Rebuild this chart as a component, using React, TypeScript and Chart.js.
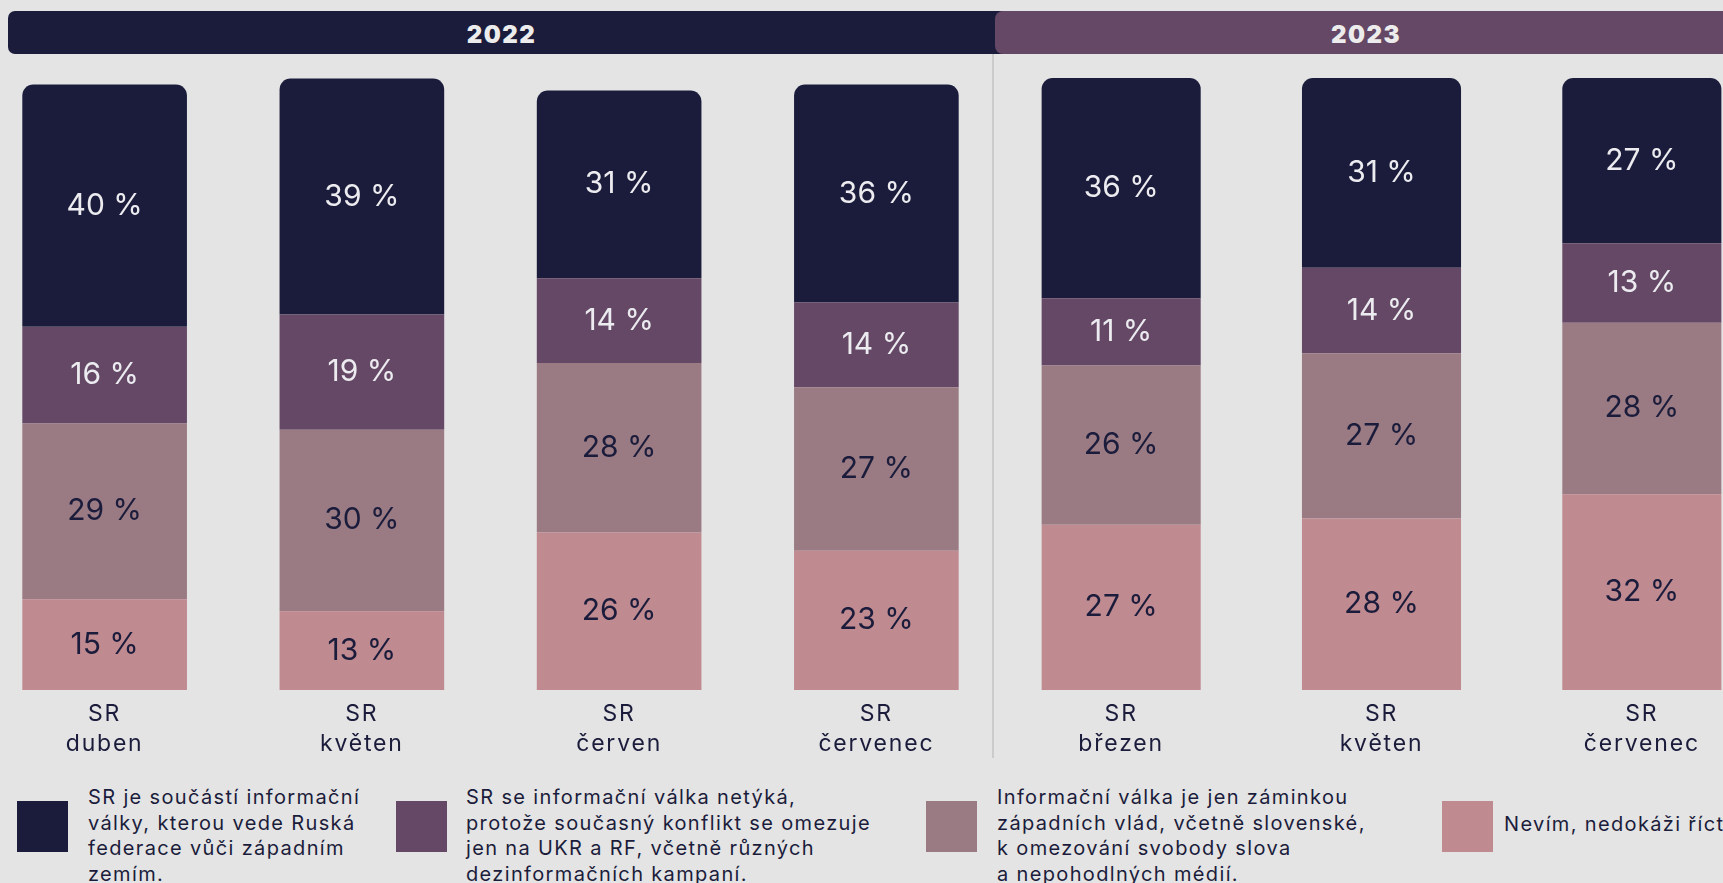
import React, { useEffect, useRef } from "react";
import { Chart, registerables } from "chart.js";

Chart.register(...registerables);

// ---------- data ----------
const categories2022: string[][] = [
  ["SR", "duben"],
  ["SR", "květen"],
  ["SR", "červen"],
  ["SR", "červenec"],
];
const categories2023: string[][] = [
  ["SR", "březen"],
  ["SR", "květen"],
  ["SR", "červenec"],
];

const seriesNames: string[][] = [
  ["SR je součástí informační", "války, kterou vede Ruská", "federace vůči západním", "zemím."],
  ["SR se informační válka netýká,", "protože současný konflikt se omezuje", "jen na UKR a RF, včetně různých", "dezinformačních kampaní."],
  ["Informační válka je jen záminkou", "západních vlád, včetně slovenské,", "k omezování svobody slova", "a nepohodlných médií."],
  ["Nevím, nedokáži říct"],
];

const partOfWar2022 = [40, 39, 31, 36];
const notConcerned2022 = [16, 19, 14, 14];
const pretext2022 = [29, 30, 28, 27];
const dontKnow2022 = [15, 13, 26, 23];

const partOfWar2023 = [36, 31, 27];
const notConcerned2023 = [11, 14, 13];
const pretext2023 = [26, 27, 28];
const dontKnow2023 = [27, 28, 32];

const yearLabels = ["2022", "2023"];

const seriesColors = ["#1b1c3b", "#644866", "#9a7b83", "#bf8a90"];
const labelColors = ["#ececf0", "#ececf0", "#1b1c3b", "#1b1c3b"];

const BG = "#e4e4e4";
const NAVY = "#1b1c3b";
const FONT = "Inter, 'Noto Sans', sans-serif";

// ---------- plugins ----------
const valueLabelPlugin = {
  id: "valueLabels",
  beforeDraw(chart: any) {
    chart.ctx.letterSpacing = "1.8px";
  },
  afterDatasetsDraw(chart: any) {
    const ctx = chart.ctx;
    ctx.save();
    ctx.letterSpacing = "0px";
    ctx.font = `400 30px ${FONT}`;
    ctx.textAlign = "center";
    ctx.textBaseline = "middle";
    chart.data.datasets.forEach((ds: any, di: number) => {
      const meta = chart.getDatasetMeta(di);
      meta.data.forEach((bar: any, i: number) => {
        const v = ds.data[i];
        const p = bar.getProps(["x", "y", "base"], true);
        ctx.fillStyle = ds.labelColor;
        ctx.fillText(`${v} %`, p.x, (p.y + p.base) / 2);
      });
    });
    ctx.restore();
  },
  afterDraw(chart: any) {
    chart.ctx.letterSpacing = "0px";
  },
};

function buildChart(
  canvas: HTMLCanvasElement,
  labels: string[][],
  series: number[][],
  yMax: number,
  barFraction: number,
  radius: number
) {
  // series given top-first (legend order); stack bottom-first
  const order = [3, 2, 1, 0];
  const datasets = order.map((si) => ({
    label: seriesNames[si].join(" "),
    data: series[si],
    backgroundColor: seriesColors[si],
    labelColor: labelColors[si],
    borderWidth: 0,
    borderSkipped: false,
    borderRadius:
      si === 0
        ? { topLeft: radius, topRight: radius, bottomLeft: 0, bottomRight: 0 }
        : 0,
    barPercentage: barFraction,
    categoryPercentage: 1,
  }));
  return new Chart(canvas, {
    type: "bar",
    data: { labels, datasets } as any,
    plugins: [valueLabelPlugin as any],
    options: {
      responsive: false,
      animation: false,
      events: [],
      layout: { padding: 0 },
      plugins: {
        legend: { display: false },
        tooltip: { enabled: false },
      },
      scales: {
        x: {
          stacked: true,
          grid: { display: false, drawTicks: false },
          border: { display: false },
          ticks: {
            color: NAVY,
            font: { family: FONT, size: 23, lineHeight: 1.3 },
            padding: 9,
            autoSkip: false,
            maxRotation: 0,
          },
          afterFit: (scale: any) => {
            scale.height = 90;
          },
        },
        y: {
          stacked: true,
          display: false,
          min: 0,
          max: yMax,
        },
      },
    } as any,
  });
}

export default function App() {
  const ref2022 = useRef<HTMLCanvasElement | null>(null);
  const ref2023 = useRef<HTMLCanvasElement | null>(null);

  useEffect(() => {
    document.body.style.margin = "0";
    document.body.style.background = BG;
    document.body.style.overflow = "hidden";
    const c1 = buildChart(
      ref2022.current!,
      categories2022,
      [partOfWar2022, notConcerned2022, pretext2022, dontKnow2022],
      113.96,
      0.64,
      11
    );
    const c2 = buildChart(
      ref2023.current!,
      categories2023,
      [partOfWar2023, notConcerned2023, pretext2023, dontKnow2023],
      112.73,
      0.611,
      11
    );
    return () => {
      c1.destroy();
      c2.destroy();
    };
  }, []);

  const legendPos = [
    { sq: 17, tx: 88, top: 785 },
    { sq: 396, tx: 466, top: 785 },
    { sq: 926, tx: 997, top: 785 },
    { sq: 1442, tx: 1504, top: 811.5 },
  ];

  return (
    <div
      style={{
        position: "relative",
        width: 1723,
        height: 883,
        overflow: "hidden",
        background: BG,
        fontFamily: FONT,
      }}
    >
      {/* separator */}
      <div
        style={{
          position: "absolute",
          left: 992,
          top: 40,
          width: 2,
          height: 718,
          background: "#cbcbcb",
        }}
      />
      {/* year bands */}
      <div
        style={{
          position: "absolute",
          left: 8,
          top: 11,
          width: 1010,
          height: 43,
          borderRadius: 7,
          background: NAVY,
        }}
      />
      <div
        style={{
          position: "absolute",
          left: 995,
          top: 11,
          width: 742,
          height: 43,
          borderRadius: 8,
          background: "#644866",
        }}
      />
      {[
        { t: yearLabels[0], c: 501.5 },
        { t: yearLabels[1], c: 1366 },
      ].map((y) => (
        <div
          key={y.t}
          style={{
            position: "absolute",
            left: y.c - 100,
            width: 200,
            top: 13,
            height: 43,
            lineHeight: "43px",
            textAlign: "center",
            color: "#ececec",
            fontWeight: 900,
            fontSize: 24,
            letterSpacing: 1.5,
          }}
        >
          {y.t}
        </div>
      ))}
      {/* charts */}
      <canvas
        ref={ref2022}
        width={1029}
        height={780}
        style={{ position: "absolute", left: -24, top: 0 }}
      />
      <canvas
        ref={ref2023}
        width={781}
        height={780}
        style={{ position: "absolute", left: 991, top: 0 }}
      />
      {/* legend */}
      {seriesNames.map((lines, i) => (
        <React.Fragment key={i}>
          <div
            style={{
              position: "absolute",
              left: legendPos[i].sq,
              top: 801,
              width: 51,
              height: 51,
              background: seriesColors[i],
            }}
          />
          <div
            style={{
              position: "absolute",
              left: legendPos[i].tx,
              top: legendPos[i].top,
              fontSize: 20,
              lineHeight: "25.5px",
              letterSpacing: 1.35,
              color: NAVY,
              whiteSpace: "nowrap",
            }}
          >
            {lines.map((l, j) => (
              <div key={j}>{l}</div>
            ))}
          </div>
        </React.Fragment>
      ))}
    </div>
  );
}
